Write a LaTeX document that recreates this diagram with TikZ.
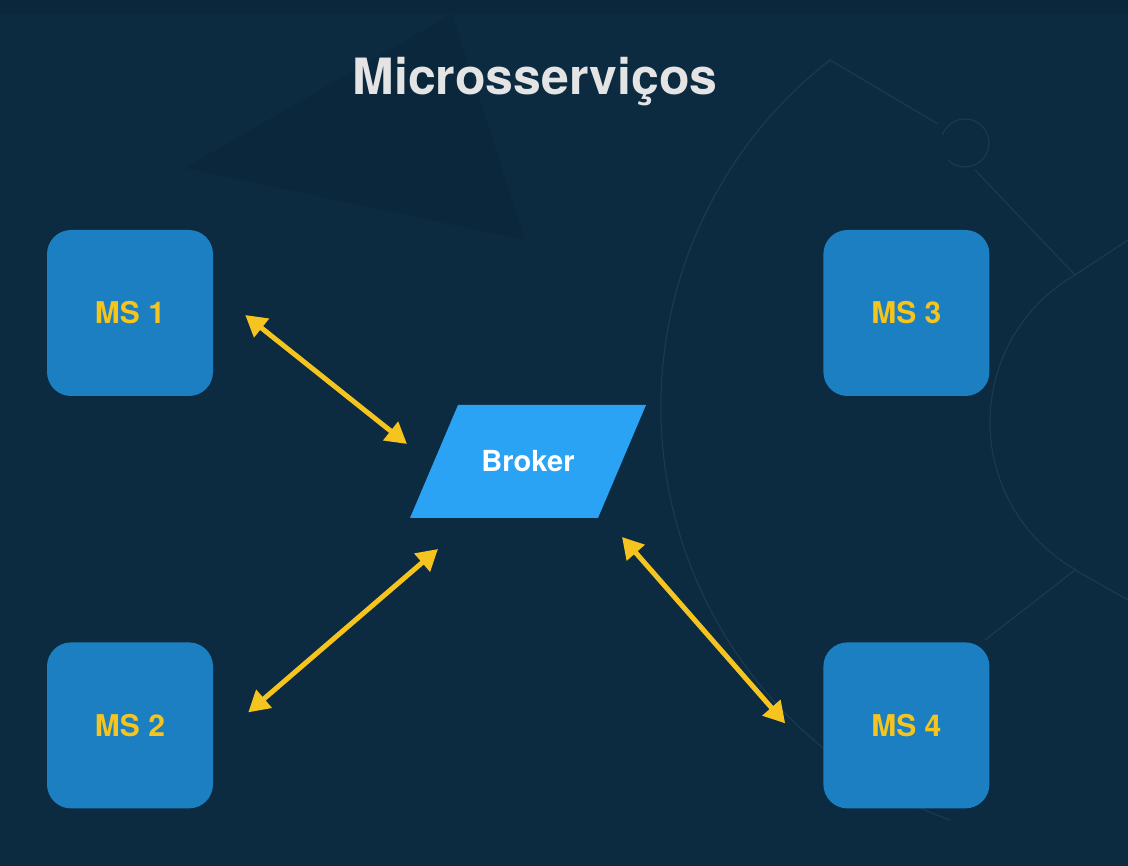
\documentclass[tikz,border=0pt]{standalone}
\usepackage{fontspec}
\setmainfont{TeX Gyre Heros}
\usetikzlibrary{positioning,calc,arrows.meta}

\definecolor{bgnavy}{RGB}{12,42,64}
\definecolor{bgdark}{RGB}{11,39,60}
\definecolor{bgline}{RGB}{25,58,80}
\definecolor{msblue}{RGB}{27,127,193}
\definecolor{brokerblue}{RGB}{42,163,245}
\definecolor{arrowyellow}{RGB}{245,196,30}
\definecolor{titlegray}{RGB}{228,228,228}

\tikzset{
	msbox/.style={fill=msblue, rounded corners=24pt, minimum width=166pt, minimum height=166pt,
		text=arrowyellow, font=\fontsize{30}{32}\selectfont\bfseries, inner sep=0pt},
	brokertext/.style={text=white, font=\fontsize{29}{31}\selectfont\bfseries, inner sep=0pt},
	link/.style={draw=arrowyellow, line width=5pt,
		{Triangle[length=21pt,width=23pt]}-{Triangle[length=21pt,width=23pt]}},
	deco/.style={draw=bgline, line width=1.2pt}
}

\begin{document}
\begin{tikzpicture}[x=1pt,y=-1pt]
		\useasboundingbox (0,0) rectangle (1128,866);
		\fill[bgnavy] (0,0) rectangle (1128,866);
		%
		% faint background shapes
		\fill[bgdark] (0,0) rectangle (1128,14);
		\fill[bgdark] (185,168) -- (452,14) -- (525,240) -- cycle;
		\draw[deco] (830,60) arc[start angle=-128, end angle=-250, radius=440];
		\draw[deco] (1075,275) arc[start angle=-120, end angle=-240, radius=170];
		\draw[deco] (830,60) -- (938,124);
		\draw[deco] (948,160) arc[start angle=135, end angle=-160, radius=24];
		\draw[deco] (975,170) -- (1075,275) -- (1128,240);
		\draw[deco] (1128,600) -- (1075,570) -- (985,640);
		%
		\node[font=\fontsize{50}{56}\selectfont\bfseries, text=titlegray, anchor=base] (title) at (535,95) {Microsserviços};
		%
		\node[msbox] (ms1) at (130,313) {MS 1};
		\node[msbox, below=246pt of ms1] (ms2) {MS 2};
		\node[msbox, right=610pt of ms1] (ms3) {MS 3};
		\node[msbox, below=246pt of ms3] (ms4) {MS 4};
		%
		% broker as a slanted box
		\fill[brokerblue] (458,405) -- (646,405) -- (598,518) -- (410,518) -- cycle;
		\node[brokertext] (broker) at (528,461) {Broker};
		%
		\draw[link] ($(ms1.east)+(32,2)$) -- ($(broker)+(-121,-17)$);
		\draw[link] ($(ms2.east)+(35,-13)$) -- ($(broker)+(-90,88)$);
		\draw[link] ($(broker)+(94,76)$) -- ($(ms4.west)+(-38,-2)$);
	\end{tikzpicture}
\end{document}
